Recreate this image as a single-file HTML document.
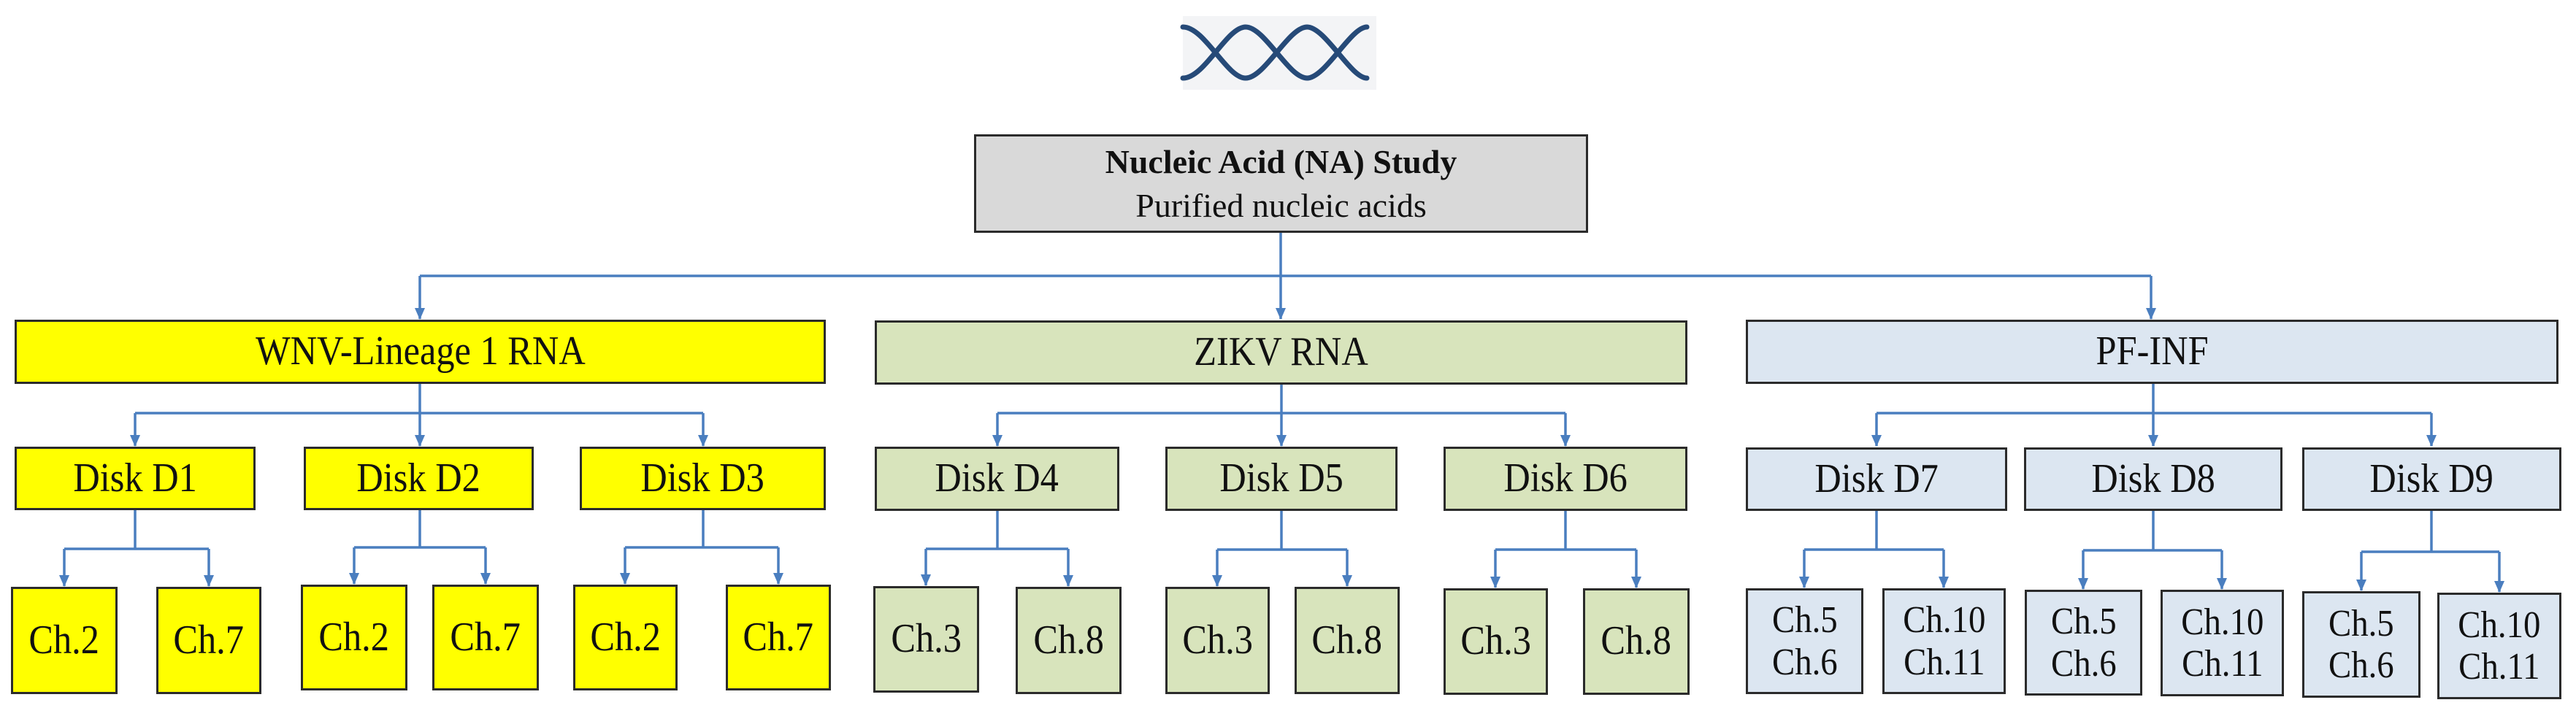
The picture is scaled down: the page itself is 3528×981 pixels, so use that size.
<!DOCTYPE html>
<html><head><meta charset="utf-8"><style>
body{margin:0;width:3528px;height:981px;background:#fff;position:relative;overflow:hidden;font-family:"Liberation Serif",serif;}
.b{position:absolute;box-sizing:border-box;border:3px solid #2b2b2b;display:flex;align-items:center;justify-content:center;text-align:center;color:#111;font-size:56px;line-height:1.1;}
.b span.t{display:inline-block;transform:scaleX(0.9);}
.y{background:#ffff00}.g{background:#d8e4bc}.l{background:#dce6f1}
svg{position:absolute;left:0;top:0}
</style></head><body>
<svg width="3528" height="981">
<defs><marker id="a" markerWidth="14" markerHeight="16" refX="7" refY="15" orient="0" markerUnits="userSpaceOnUse" viewBox="0 0 14 16"><path d="M0,0 L14,0 L7,16z" fill="#4a7ebf"/></marker></defs>
<rect x="1620" y="22" width="265" height="101" fill="#f3f4f6"/>
<g fill="none" stroke="#264a78" stroke-width="7" stroke-linecap="round">
<path d="M1620,37 C1650,37 1680,107 1706,107 S1765,37 1790,37 S1850,107 1872,107"/>
<path d="M1620,107 C1650,107 1680,37 1706,37 S1765,107 1790,107 S1850,37 1872,37"/>
</g>
<g fill="none" stroke="#4a7ebf" stroke-width="3.5">
<path d="M1754,319 V437" marker-end="url(#a)"/>
<path d="M575,378 H2946"/><path d="M575,378 V437" marker-end="url(#a)"/><path d="M2946,378 V437" marker-end="url(#a)"/>
<path d="M575,525 V611" marker-end="url(#a)"/><path d="M185,566 H963"/><path d="M185,566 V611" marker-end="url(#a)"/><path d="M963,566 V611" marker-end="url(#a)"/>
<path d="M1755,525 V611" marker-end="url(#a)"/><path d="M1366,566 H2144"/><path d="M1366,566 V611" marker-end="url(#a)"/><path d="M2144,566 V611" marker-end="url(#a)"/>
<path d="M2949,525 V611" marker-end="url(#a)"/><path d="M2570,566 H3330"/><path d="M2570,566 V611" marker-end="url(#a)"/><path d="M3330,566 V611" marker-end="url(#a)"/>
<path d="M185,699 V752 M88,752 H286"/><path d="M88,752 V803" marker-end="url(#a)"/><path d="M286,752 V803" marker-end="url(#a)"/>
<path d="M575,699 V750 M485,750 H665"/><path d="M485,750 V800" marker-end="url(#a)"/><path d="M665,750 V800" marker-end="url(#a)"/>
<path d="M963,699 V750 M856,750 H1066"/><path d="M856,750 V800" marker-end="url(#a)"/><path d="M1066,750 V800" marker-end="url(#a)"/>
<path d="M1366,699 V752 M1268,752 H1463"/><path d="M1268,752 V802" marker-end="url(#a)"/><path d="M1463,752 V803" marker-end="url(#a)"/>
<path d="M1755,699 V753 M1667,753 H1845"/><path d="M1667,753 V803" marker-end="url(#a)"/><path d="M1845,753 V803" marker-end="url(#a)"/>
<path d="M2144,699 V753 M2048,753 H2241"/><path d="M2048,753 V805" marker-end="url(#a)"/><path d="M2241,753 V805" marker-end="url(#a)"/>
<path d="M2570,699 V753 M2471,753 H2662"/><path d="M2471,753 V805" marker-end="url(#a)"/><path d="M2662,753 V805" marker-end="url(#a)"/>
<path d="M2949,699 V754 M2853,754 H3043"/><path d="M2853,754 V807" marker-end="url(#a)"/><path d="M3043,754 V807" marker-end="url(#a)"/>
<path d="M3330,699 V756 M3234,756 H3423"/><path d="M3234,756 V809" marker-end="url(#a)"/><path d="M3423,756 V811" marker-end="url(#a)"/>
</g>
</svg>
<div class="b" style="left:1334px;top:184px;width:841px;height:135px;background:#d9d9d9;flex-direction:column;font-size:46px;line-height:1.3"><b>Nucleic Acid (NA) Study</b><span>Purified nucleic acids</span></div>
<div class="b y" style="left:20px;top:438px;width:1111px;height:88px"><span class="t">WNV-Lineage 1 RNA</span></div>
<div class="b g" style="left:1198px;top:439px;width:1113px;height:88px"><span class="t">ZIKV RNA</span></div>
<div class="b l" style="left:2391px;top:438px;width:1113px;height:88px"><span class="t">PF-INF</span></div>
<div class="b y" style="left:20px;top:612px;width:330px;height:87px"><span class="t">Disk D1</span></div>
<div class="b y" style="left:416px;top:612px;width:315px;height:87px"><span class="t">Disk D2</span></div>
<div class="b y" style="left:794px;top:612px;width:337px;height:87px"><span class="t">Disk D3</span></div>
<div class="b g" style="left:1198px;top:612px;width:335px;height:88px"><span class="t">Disk D4</span></div>
<div class="b g" style="left:1596px;top:612px;width:318px;height:88px"><span class="t">Disk D5</span></div>
<div class="b g" style="left:1977px;top:612px;width:334px;height:88px"><span class="t">Disk D6</span></div>
<div class="b l" style="left:2391px;top:613px;width:358px;height:87px"><span class="t">Disk D7</span></div>
<div class="b l" style="left:2772px;top:613px;width:354px;height:87px"><span class="t">Disk D8</span></div>
<div class="b l" style="left:3153px;top:613px;width:355px;height:87px"><span class="t">Disk D9</span></div>
<div class="b y" style="left:15px;top:804px;width:146px;height:147px"><span class="t">Ch.2</span></div>
<div class="b y" style="left:214px;top:804px;width:144px;height:147px"><span class="t">Ch.7</span></div>
<div class="b y" style="left:412px;top:801px;width:146px;height:145px"><span class="t">Ch.2</span></div>
<div class="b y" style="left:592px;top:801px;width:146px;height:145px"><span class="t">Ch.7</span></div>
<div class="b y" style="left:785px;top:801px;width:143px;height:145px"><span class="t">Ch.2</span></div>
<div class="b y" style="left:994px;top:801px;width:144px;height:145px"><span class="t">Ch.7</span></div>
<div class="b g" style="left:1196px;top:803px;width:145px;height:146px"><span class="t">Ch.3</span></div>
<div class="b g" style="left:1391px;top:804px;width:145px;height:147px"><span class="t">Ch.8</span></div>
<div class="b g" style="left:1596px;top:804px;width:143px;height:147px"><span class="t">Ch.3</span></div>
<div class="b g" style="left:1773px;top:804px;width:144px;height:147px"><span class="t">Ch.8</span></div>
<div class="b g" style="left:1977px;top:806px;width:143px;height:146px"><span class="t">Ch.3</span></div>
<div class="b g" style="left:2168px;top:806px;width:146px;height:146px"><span class="t">Ch.8</span></div>
<div class="b l" style="left:2391px;top:806px;width:161px;height:145px;font-size:52px"><span class="t">Ch.5<br>Ch.6</span></div>
<div class="b l" style="left:2578px;top:806px;width:169px;height:145px;font-size:52px"><span class="t">Ch.10<br>Ch.11</span></div>
<div class="b l" style="left:2773px;top:808px;width:161px;height:145px;font-size:52px"><span class="t">Ch.5<br>Ch.6</span></div>
<div class="b l" style="left:2959px;top:808px;width:169px;height:146px;font-size:52px"><span class="t">Ch.10<br>Ch.11</span></div>
<div class="b l" style="left:3153px;top:810px;width:162px;height:146px;font-size:52px"><span class="t">Ch.5<br>Ch.6</span></div>
<div class="b l" style="left:3338px;top:812px;width:170px;height:146px;font-size:52px"><span class="t">Ch.10<br>Ch.11</span></div>
</body></html>
